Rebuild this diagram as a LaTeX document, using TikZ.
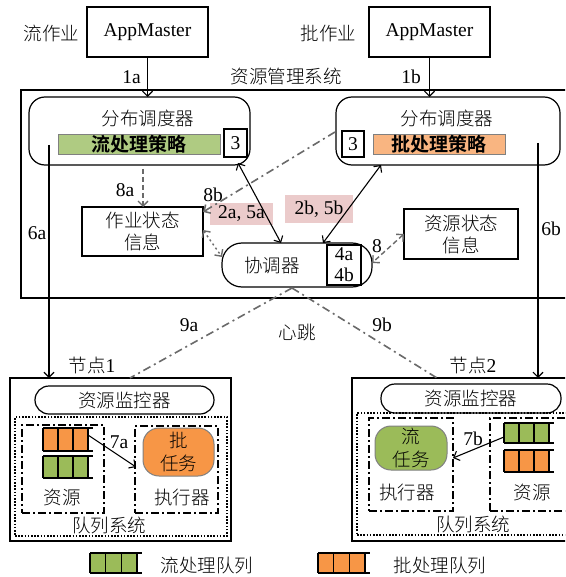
\documentclass[tikz,border=0pt]{standalone}
\usepackage{fontspec}
\setmainfont{Liberation Serif}
\IfFontExistsTF{Noto Sans CJK SC Light}{\newfontfamily\cjk[BoldFont={Noto Sans CJK SC Bold}]{Noto Sans CJK SC Light}}{\newfontfamily\cjk{Noto Sans CJK SC}}
\usetikzlibrary{arrows.meta}
\definecolor{barG}{HTML}{AFCB82}
\definecolor{barO}{HTML}{F9B581}
\definecolor{qG}{HTML}{9BBB59}
\definecolor{qO}{HTML}{F79646}
\definecolor{pinkbg}{HTML}{EBCBCB}
\definecolor{lgray}{HTML}{6A6A6A}
\newcommand\zh[1]{{\cjk\fontsize{18.5}{22}\selectfont #1}}
\newcommand\myqueue[5]{%
  \begin{scope}[shift={(#1,#2)}]
    \fill[#5] (0,0) rectangle ({3*#3},#4);
    \draw[line width=1.3pt] (0,0) -- ({3*#3+5},0) (0,#4) -- ({3*#3+5},#4)
      (0,0) -- (0,#4) (#3,0) -- (#3,#4) ({2*#3},0) -- ({2*#3},#4) ({3*#3},0) -- ({3*#3},#4);
  \end{scope}}
\tikzset{
  every node/.style={inner sep=0pt, outer sep=0pt, font=\fontsize{19.5}{22}\selectfont},
  box/.style={draw, line width=1.2pt},
  rbox/.style={draw, line width=1.2pt, rounded corners=#1},
  txt/.style={align=center},
  arr/.style={line width=1.1pt, -{Straight Barb[length=5pt,width=10pt]}},
  darr/.style={line width=1.1pt, {Straight Barb[length=5pt,width=10pt]}-{Straight Barb[length=5pt,width=10pt]}},
  gdash/.style={lgray, line width=1.4pt, dash pattern=on 5pt off 3pt},
  gdashdot/.style={lgray, line width=1.6pt, dash pattern=on 8pt off 4pt on 2pt off 4pt},
  gdot/.style={lgray, line width=1.4pt, dash pattern=on 2pt off 3pt},
  kdashdot/.style={draw, line width=1.7pt, dash pattern=on 8pt off 3pt on 2pt off 3pt},
  kdot/.style={draw, line width=1.6pt, dash pattern=on 1.6pt off 1.6pt},
  gtip/.style={-{Straight Barb[length=5pt,width=10pt]}},
  gtip2/.style={{Straight Barb[length=5pt,width=10pt]}-{Straight Barb[length=5pt,width=10pt]}},
}
\begin{document}
\begin{tikzpicture}[x=1pt,y=-1pt]
\useasboundingbox (0,0) rectangle (565,577);
\clip (0,0) rectangle (565,577);
\fill[white] (0,0) rectangle (565,577);

% top
\node[box, minimum width=121pt, minimum height=50pt] (am1) at (147.5,32) {AppMaster};
\node[box, minimum width=121pt, minimum height=50pt] (am2) at (429.5,32) {AppMaster};
\node (lstream) at (51.5,33) {\zh{流作业}};
\node (lbatch) at (328.5,33) {\zh{批作业}};
\node (lrms) at (286,76) {\zh{资源管理系统}};
\node (l1a) at (131.5,77) {1a};
\node (l1b) at (411,77) {1b};

% resource management system
\node[box, minimum width=564pt, minimum height=208pt] (rms) at (303,194) {};
\node[rbox=16pt, minimum width=221pt, minimum height=68pt] (sch1) at (139.5,131) {};
\node[rbox=16pt, minimum width=224pt, minimum height=68pt] (sch2) at (448,131) {};
\node (sch1t) at (148,118) {\zh{分布调度器}};
\node (sch2t) at (447,118) {\zh{分布调度器}};
\node[draw=gray, line width=0.8pt, fill=barG, minimum width=162pt, minimum height=20pt] (bar1) at (139,144) {\cjk\bfseries\fontsize{19}{22}\selectfont 流处理策略};
\node[draw=gray, line width=0.8pt, fill=barO, minimum width=132pt, minimum height=20pt] (bar2) at (439,144) {\cjk\bfseries\fontsize{19}{22}\selectfont 批处理策略};
\node[box, minimum width=23pt, minimum height=28pt] (three1) at (235.5,143) {3};
\node[box, minimum width=22pt, minimum height=26pt] (three2) at (353,144) {3};

\node[box, minimum width=121pt, minimum height=49pt, txt] (job) at (142.5,231.5) {\zh{作业状态}\\\zh{信息}};
\node[box, minimum width=114pt, minimum height=50pt, txt] (res) at (461,234) {\zh{资源状态}\\\zh{信息}};
\node[rbox=20pt, minimum width=150pt, minimum height=44pt] (coord) at (297,265) {};
\node (coordt) at (272,265) {\zh{协调器}};
\node[box, minimum width=34pt, minimum height=40pt, txt, font=\fontsize{19.5}{21}\selectfont] (four) at (344,265) {4a\\4b};

\node[fill=pinkbg, minimum width=63pt, minimum height=22pt] (l2a) at (241.5,214) {2a, 5a};
\node[fill=pinkbg, minimum width=68pt, minimum height=28pt] (l2b) at (319,209) {2b, 5b};
\node (l8a) at (125,190) {8a};
\node (l8b) at (213,195) {8b};
\node (l8) at (377,246) {8};
\node (l6a) at (37,233) {6a};
\node (l6b) at (551,229) {6b};
\node (l9a) at (189,325) {9a};
\node (l9b) at (382,325) {9b};
\node (lhb) at (297,332) {\zh{心跳}};

% node 1
\node (ln1) at (92,365) {\zh{节点}1};
\node[box, minimum width=221pt, minimum height=163pt] (n1) at (120.5,459.5) {};
\node[rbox=14pt, minimum width=179pt, minimum height=28pt] (mon1) at (124.5,400) {\zh{资源监控器}};
\node[kdot, minimum width=212pt, minimum height=119pt] (qs1) at (121,476.5) {};
\node[kdashdot, minimum width=82pt, minimum height=88pt] (rb1) at (63,469) {};
\node[kdashdot, minimum width=83pt, minimum height=87pt] (ex1) at (176.5,469.5) {};
\node[draw=gray, line width=1pt, rounded corners=16pt, fill=qO, minimum width=71pt, minimum height=48pt, txt, font=\fontsize{18.5}{23}\selectfont] (task1) at (178.5,452) {\zh{批}\\\zh{任务}};
\node (lres1) at (62,497) {\zh{资源}};
\node (lex1) at (182,497) {\zh{执行器}};
\node (lqs1) at (109,525) {\zh{队列系统}};
\myqueue{43}{428}{15}{23}{qO}
\myqueue{43}{456}{15}{22}{qG}
\coordinate (q1o) at (88,435);
\coordinate (ex1in) at (136,467);
\draw[arr] (q1o) -- (ex1in);
\node (l7a) at (119,442) {7a};

% node 2
\node (ln2) at (473,365) {\zh{节点}2};
\node[box, minimum width=233pt, minimum height=163pt] (n2) at (468.5,459.5) {};
\node[rbox=14pt, minimum width=180pt, minimum height=29pt] (mon2) at (471,398.5) {\zh{资源监控器}};
\node[kdot, minimum width=228pt, minimum height=122pt] (qs2) at (471,474) {};
\node[kdashdot, minimum width=84pt, minimum height=93pt] (ex2) at (411,464.5) {};
\node[kdashdot, minimum width=95pt, minimum height=93pt] (rb2) at (537.5,464.5) {};
\node[draw=gray, line width=1pt, rounded corners=16pt, fill=qG, minimum width=72pt, minimum height=44pt, txt, font=\fontsize{18.5}{23}\selectfont] (task2) at (411,448) {\zh{流}\\\zh{任务}};
\node (lex2) at (407,492) {\zh{执行器}};
\node (lres2) at (532,492) {\zh{资源}};
\node (lqs2) at (473,524) {\zh{队列系统}};
\myqueue{504}{423}{15}{20}{qG}
\myqueue{504}{450}{15}{22}{qO}
\coordinate (q2g) at (504,437);
\coordinate (ex2in) at (453,458);
\draw[arr] (q2g) -- (ex2in);
\node (l7b) at (473,439) {7b};

% legend
\myqueue{90}{553}{15.7}{20}{qG}
\node (leg1) at (207,565) {\zh{流处理队列}};
\myqueue{318}{553}{15.7}{20}{qO}
\node (leg2) at (440,565) {\zh{批处理队列}};

% connectors
\draw[arr] (am1.south) -- (am1.south |- sch1.north);
\draw[arr] (am2.south) -- (am2.south |- sch2.north);
\coordinate (c6a) at (49,145);
\coordinate (c6b) at (538,143);
\draw[arr] (c6a) -- (c6a |- n1.north);
\draw[arr] (c6b) -- (c6b |- n2.north);
\coordinate (c8a) at (143,169);
\draw[gdash, gtip] (c8a) -- (c8a |- job.north);
\coordinate (c8b) at (335,132);
\coordinate (c8bend) at (203,212);
\draw[gdashdot, gtip] (c8b) -- (c8bend);
\coordinate (s1a) at (238,163);
\coordinate (c1a) at (281,243);
\draw[darr] (s1a) -- (c1a);
\coordinate (s2a) at (381,165);
\coordinate (c2a) at (323,243);
\draw[darr] (s2a) -- (c2a);
\coordinate (jobr) at (203,230);
\coordinate (coordl) at (222,257);
\draw[gdot, gtip2] (jobr) -- (coordl);
\coordinate (resl) at (404,234);
\coordinate (coordr) at (372,263);
\draw[gdash, gtip2] (resl) -- (coordr);
\coordinate (hb) at (292,288);
\coordinate (hb1) at (130,378);
\coordinate (hb2) at (437,378);
\draw[gdashdot] (hb) -- (hb1);
\draw[gdashdot] (hb) -- (hb2);
\end{tikzpicture}
\end{document}
